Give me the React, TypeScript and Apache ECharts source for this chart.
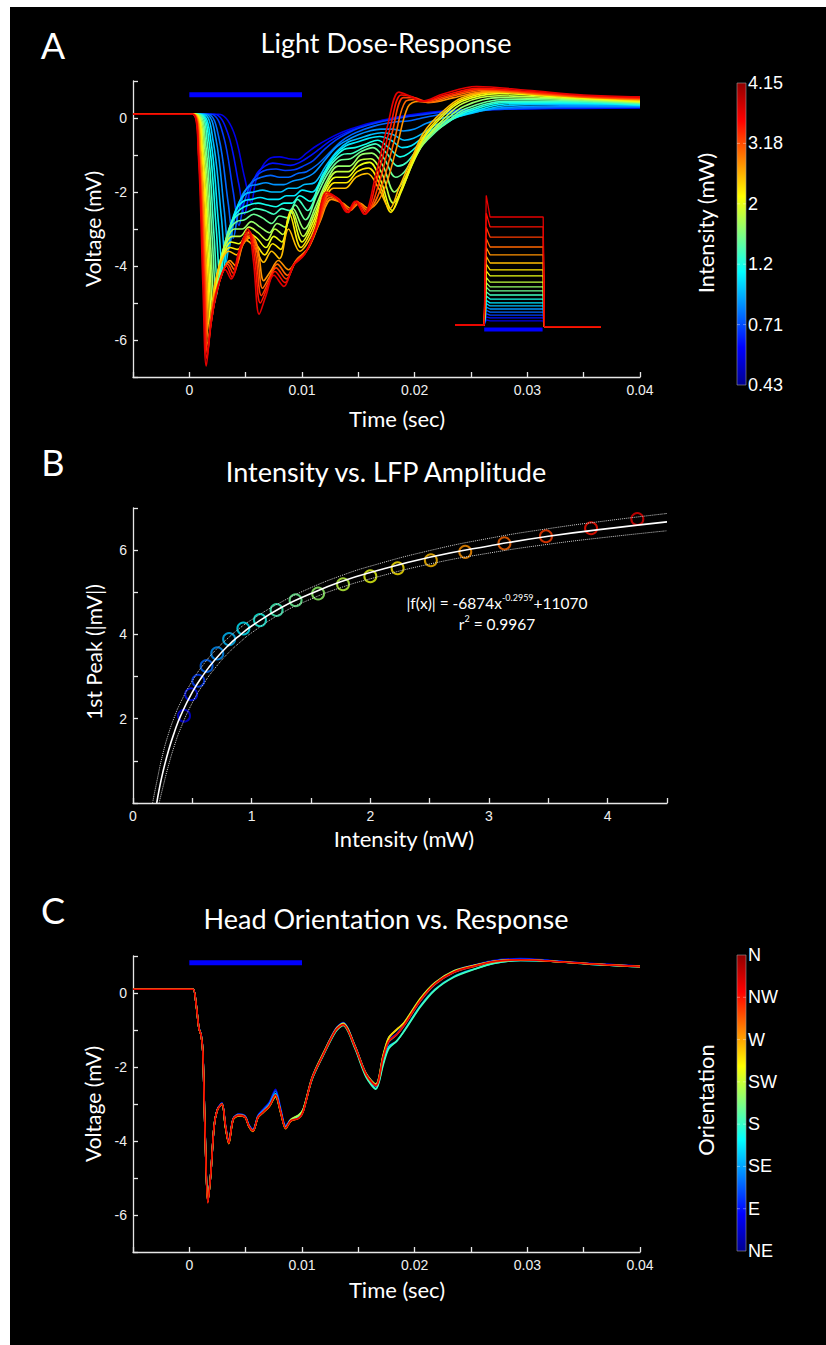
import React, { useEffect, useRef } from 'react';
import * as echarts from 'echarts';

// ---------------- Panel A: light dose-response traces (time in ms, voltage in mV) ----------------
const a0 = [[-5,0.1],[2.6,0.1],[3.9,-0.35],[4.9,-1.6],[5.5,-2.3],[5.9,-1.7],[6.5,-1.3],[7.2,-1.08],[8.0,-1.05],[8.8,-1.1],[9.6,-1.12],[10.4,-0.95],[11.3,-0.75],[12.3,-0.57],[13.3,-0.42],[14.3,-0.3],[15.3,-0.2],[16.3,-0.12],[17.3,-0.05],[18.3,0.02],[19.5,0.08],[21,0.14],[23,0.2],[26,0.23],[30,0.25],[35,0.26],[40,0.27]];
const a1 = [[-5,0.1],[2.2,0.1],[3.4,-0.4],[4.4,-1.8],[4.9,-2.6],[5.35,-2.0],[6.0,-1.5],[6.7,-1.3],[7.4,-1.22],[8.2,-1.25],[9.0,-1.28],[9.8,-1.2],[10.6,-1.05],[11.5,-0.85],[12.5,-0.62],[13.5,-0.45],[14.5,-0.32],[15.5,-0.22],[16.5,-0.13],[17.5,-0.06],[18.5,0.0],[19.5,0.05],[21,0.12],[23,0.18],[26,0.22],[30,0.25],[35,0.27],[40,0.28]];
const a2 = [[-5,0.1],[1.9,0.1],[3.0,-0.45],[3.9,-2.0],[4.4,-2.9],[4.85,-2.3],[5.5,-1.75],[6.2,-1.5],[6.9,-1.4],[7.7,-1.38],[8.5,-1.42],[9.3,-1.4],[10.1,-1.3],[11.0,-1.15],[12.0,-0.85],[13.0,-0.6],[14.0,-0.42],[15.0,-0.28],[16.0,-0.18],[17.0,-0.1],[18.0,-0.04],[19.0,0.02],[20.5,0.08],[22,0.14],[24,0.2],[28,0.24],[33,0.28],[40,0.29]];
const a3 = [[-5,0.1],[1.6,0.1],[2.6,-0.5],[3.45,-2.3],[3.9,-3.25],[4.35,-2.55],[5.0,-1.95],[5.7,-1.7],[6.4,-1.6],[7.2,-1.55],[8.0,-1.6],[8.8,-1.6],[9.6,-1.5],[10.4,-1.45],[11.4,-1.25],[12.4,-0.95],[13.4,-0.65],[14.4,-0.45],[15.4,-0.32],[16.4,-0.22],[17.4,-0.15],[18.4,-0.1],[19.4,-0.08],[20.4,-0.02],[22,0.08],[24,0.16],[28,0.25],[33,0.3],[40,0.3]];
const a4 = [[-5,0.1],[1.4,0.1],[2.35,-0.55],[3.1,-2.5],[3.5,-3.55],[3.95,-2.8],[4.6,-2.15],[5.3,-1.85],[6.0,-1.8],[6.8,-1.75],[7.6,-1.8],[8.4,-1.8],[9.2,-1.7],[10.0,-1.65],[11.0,-1.5],[12.0,-1.15],[13.0,-0.8],[14.0,-0.6],[15.0,-0.45],[16.0,-0.35],[17.0,-0.3],[18.0,-0.3],[19.0,-0.35],[20.0,-0.3],[21.0,-0.15],[22.5,0.0],[24.5,0.12],[28,0.28],[33,0.33],[40,0.32]];
const a5 = [[-5,0.1],[1.2,0.1],[2.1,-0.6],[2.85,-2.7],[3.25,-3.9],[3.7,-3.0],[4.3,-2.35],[5.0,-2.05],[5.7,-2.0],[6.5,-1.95],[7.3,-2.0],[8.1,-2.0],[8.8,-1.9],[9.5,-1.9],[10.2,-1.8],[11.1,-1.75],[12.1,-1.3],[13.1,-0.9],[14.1,-0.65],[15.1,-0.55],[16.1,-0.45],[17.1,-0.4],[18.1,-0.45],[19.1,-0.6],[19.9,-0.55],[20.8,-0.4],[21.8,-0.2],[23.4,0.0],[25,0.12],[28,0.33],[33,0.37],[40,0.34]];
const a6 = [[-5,0.1],[1.0,0.1],[1.9,-0.6],[2.6,-2.9],[3.0,-4.15],[3.45,-3.2],[4.1,-2.5],[4.8,-2.25],[5.5,-2.2],[6.3,-2.15],[7.1,-2.2],[7.9,-2.2],[8.6,-2.1],[9.3,-2.1],[10.0,-1.95],[10.9,-2.0],[11.9,-1.5],[12.9,-1.0],[13.9,-0.75],[14.9,-0.65],[15.9,-0.55],[16.9,-0.5],[17.9,-0.6],[18.9,-0.8],[19.7,-0.75],[20.6,-0.55],[21.6,-0.3],[23.2,-0.05],[25,0.15],[28,0.38],[33,0.4],[40,0.35]];
const a7 = [[-5,0.1],[0.9,0.1],[1.75,-0.65],[2.4,-3.05],[2.75,-4.35],[3.2,-3.4],[3.9,-2.7],[4.6,-2.45],[5.3,-2.35],[6.1,-2.3],[6.9,-2.35],[7.7,-2.4],[8.4,-2.3],[9.1,-2.3],[9.8,-2.1],[10.7,-2.25],[11.7,-1.65],[12.7,-1.15],[13.7,-0.85],[14.7,-0.8],[15.7,-0.7],[16.7,-0.6],[17.7,-0.8],[18.7,-1.05],[19.5,-0.95],[20.4,-0.7],[21.4,-0.4],[23,-0.1],[24.8,0.18],[28,0.42],[33,0.42],[40,0.36]];
const a8 = [[-5,0.1],[0.8,0.1],[1.6,-0.7],[2.2,-3.2],[2.55,-4.6],[3.0,-3.6],[3.7,-2.85],[4.4,-2.6],[5.1,-2.55],[5.9,-2.45],[6.7,-2.5],[7.5,-2.6],[8.2,-2.45],[8.9,-2.5],[9.6,-2.2],[10.5,-2.5],[11.5,-1.85],[12.5,-1.3],[13.5,-1.0],[14.5,-0.95],[15.5,-0.8],[16.5,-0.7],[17.5,-0.95],[18.5,-1.3],[19.3,-1.2],[20.2,-0.85],[21.2,-0.5],[22.8,-0.15],[24.6,0.2],[28,0.45],[33,0.45],[40,0.38]];
const a9 = [[-5,0.1],[0.7,0.1],[1.45,-0.7],[2.05,-3.35],[2.4,-4.8],[2.85,-3.8],[3.5,-3.05],[4.2,-2.8],[4.9,-2.75],[5.7,-2.6],[6.5,-2.7],[7.3,-2.85],[8.0,-2.65],[8.7,-2.7],[9.4,-2.35],[10.3,-2.75],[11.3,-2.1],[12.3,-1.5],[13.3,-1.15],[14.3,-1.1],[15.3,-0.9],[16.3,-0.8],[17.3,-1.1],[18.3,-1.6],[19.1,-1.45],[20.0,-1.0],[21.1,-0.6],[22.7,-0.15],[24.5,0.25],[28,0.5],[33,0.48],[40,0.4]];
const a10 = [[-5,0.1],[0.6,0.1],[1.35,-0.75],[1.9,-3.5],[2.25,-5.0],[2.65,-4.0],[3.3,-3.3],[4.0,-3.0],[4.7,-3.0],[5.5,-2.8],[6.3,-2.95],[7.1,-3.1],[7.8,-2.85],[8.5,-2.95],[9.2,-2.45],[10.2,-3.0],[11.2,-2.4],[12.2,-1.7],[13.2,-1.3],[14.2,-1.3],[15.2,-1.0],[16.2,-0.95],[17.2,-1.3],[18.2,-2.0],[19.0,-1.7],[19.9,-1.15],[21.0,-0.6],[22.6,-0.1],[24.4,0.32],[27.5,0.55],[32,0.52],[40,0.42]];
const a11 = [[-5,0.1],[0.55,0.1],[1.25,-0.8],[1.8,-3.65],[2.1,-5.2],[2.5,-4.2],[3.1,-3.5],[3.8,-3.2],[4.5,-3.2],[5.3,-2.95],[6.1,-3.1],[6.9,-3.3],[7.6,-3.0],[8.3,-3.15],[9.1,-2.5],[10.1,-3.2],[11.1,-2.6],[12.1,-1.85],[13.1,-1.45],[14.1,-1.45],[15.1,-1.15],[16.1,-1.1],[17.1,-1.5],[18.1,-2.3],[18.9,-1.9],[19.8,-1.25],[20.9,-0.6],[22.5,-0.05],[24.3,0.4],[27.5,0.6],[32,0.55],[40,0.43]];
const a12 = [[-5,0.1],[0.5,0.1],[1.15,-0.8],[1.7,-3.8],[2.0,-5.4],[2.4,-4.4],[3.0,-3.7],[3.7,-3.35],[4.4,-3.4],[5.2,-3.1],[6.0,-3.25],[6.8,-3.5],[7.5,-3.2],[8.2,-3.35],[9.0,-2.5],[10.0,-3.35],[11.0,-2.8],[12.0,-2.0],[13.0,-1.6],[14.0,-1.6],[15.0,-1.3],[16.0,-1.2],[17.0,-1.7],[18.0,-2.5],[18.8,-2.0],[19.7,-1.3],[20.8,-0.55],[22.4,0.02],[24.2,0.45],[27.5,0.66],[32,0.58],[40,0.45]];
const a13 = [[-5,0.1],[0.45,0.1],[1.1,-0.85],[1.6,-3.9],[1.9,-5.6],[2.3,-4.5],[2.9,-3.8],[3.6,-3.5],[4.3,-3.55],[5.1,-3.2],[5.9,-3.4],[6.7,-3.7],[7.4,-3.4],[8.1,-3.55],[8.9,-2.6],[9.9,-3.5],[10.9,-3.0],[11.9,-2.2],[12.9,-1.75],[13.9,-1.75],[14.9,-1.45],[15.9,-1.35],[16.9,-1.8],[17.9,-2.55],[18.7,-2.0],[19.6,-1.3],[20.8,-0.5],[22.4,0.08],[24.2,0.5],[27.5,0.7],[32,0.6],[40,0.46]];
const a14 = [[-5,0.1],[0.4,0.1],[1.0,-0.85],[1.5,-4.0],[1.8,-5.75],[2.2,-4.6],[2.8,-3.9],[3.5,-3.6],[4.2,-3.7],[5.0,-3.3],[5.8,-3.5],[6.6,-3.9],[7.3,-3.6],[8.0,-3.8],[8.8,-3.0],[9.8,-3.6],[10.8,-3.2],[11.8,-2.4],[12.8,-1.9],[13.8,-1.9],[14.8,-1.6],[15.8,-1.5],[16.8,-1.9],[17.8,-2.45],[18.6,-1.9],[19.6,-1.2],[20.8,-0.4],[22.4,0.15],[24.2,0.55],[27.5,0.72],[32,0.62],[40,0.48]];
const a15 = [[-5,0.1],[0.38,0.1],[0.95,-0.9],[1.45,-4.15],[1.72,-5.95],[2.2,-4.9],[2.9,-4.2],[3.6,-3.85],[4.1,-4.0],[4.8,-3.4],[5.6,-3.2],[6.1,-3.55],[6.6,-4.4],[7.2,-4.15],[7.9,-3.85],[8.8,-4.1],[9.6,-3.8],[10.6,-3.5],[11.6,-2.8],[12.6,-2.2],[13.6,-2.3],[14.4,-2.45],[15.1,-2.3],[15.9,-2.45],[17.2,-2.0],[18.4,-0.8],[19.4,0.3],[20.3,0.45],[21.4,0.42],[23.5,0.55],[26.5,0.72],[30,0.66],[35,0.56],[40,0.5]];
const a16 = [[-5,0.1],[0.35,0.1],[0.9,-0.9],[1.4,-4.3],[1.66,-6.15],[2.1,-5.0],[2.8,-4.3],[3.5,-3.9],[4.0,-4.1],[4.7,-3.45],[5.5,-3.15],[6.0,-3.6],[6.5,-4.6],[7.1,-4.3],[7.8,-3.95],[8.7,-4.25],[9.5,-3.85],[10.5,-3.55],[11.5,-2.85],[12.5,-2.15],[13.5,-2.3],[14.3,-2.5],[15.0,-2.3],[15.8,-2.5],[17.0,-1.9],[18.2,-0.6],[19.2,0.45],[20.1,0.5],[21.2,0.42],[23.2,0.58],[26.3,0.75],[30,0.68],[35,0.57],[40,0.52]];
const a17 = [[-5,0.1],[0.33,0.1],[0.85,-0.95],[1.35,-4.45],[1.6,-6.35],[2.05,-5.2],[2.7,-4.4],[3.4,-3.95],[3.9,-4.2],[4.6,-3.5],[5.4,-3.1],[5.9,-3.7],[6.4,-4.8],[7.0,-4.45],[7.7,-4.05],[8.6,-4.35],[9.4,-3.9],[10.4,-3.6],[11.4,-2.9],[12.4,-2.1],[13.4,-2.25],[14.2,-2.5],[14.9,-2.25],[15.7,-2.55],[16.8,-1.8],[18.0,-0.4],[19.0,0.55],[19.9,0.55],[21.0,0.45],[23,0.6],[26,0.78],[30,0.7],[35,0.58],[40,0.53]];
const a18 = [[-5,0.1],[0.31,0.1],[0.82,-0.95],[1.3,-4.55],[1.55,-6.5],[2.0,-5.4],[2.6,-4.5],[3.3,-4.0],[3.8,-4.3],[4.5,-3.55],[5.3,-3.05],[5.8,-3.8],[6.3,-5.0],[6.9,-4.6],[7.6,-4.15],[8.5,-4.45],[9.3,-3.95],[10.3,-3.65],[11.3,-2.95],[12.3,-2.05],[13.3,-2.2],[14.1,-2.55],[14.8,-2.25],[15.6,-2.6],[16.6,-1.7],[17.8,-0.3],[18.8,0.62],[19.7,0.58],[20.8,0.45],[22.7,0.62],[25.7,0.8],[30,0.72],[35,0.6],[40,0.55]];
const a19 = [[-5,0.1],[0.3,0.1],[0.8,-1.0],[1.2,-4.5],[1.5,-6.7],[1.9,-5.6],[2.5,-4.6],[3.2,-4.1],[3.7,-4.35],[4.4,-3.6],[5.2,-3.0],[5.7,-3.9],[6.2,-5.3],[6.8,-4.8],[7.5,-4.25],[8.4,-4.55],[9.2,-4.0],[10.2,-3.7],[11.2,-3.0],[12.2,-2.0],[13.2,-2.2],[14.0,-2.55],[14.7,-2.25],[15.5,-2.6],[16.5,-1.6],[17.6,-0.2],[18.6,0.7],[19.5,0.6],[20.6,0.45],[22.5,0.65],[25.5,0.85],[30,0.75],[35,0.62],[40,0.57]];
const aTraces = [a0,a1,a2,a3,a4,a5,a6,a7,a8,a9,a10,a11,a12,a13,a14,a15,a16,a17,a18,a19];

// Light stimulus bar (ms)
const stimStart = 0;
const stimEnd = 10;
const stimLevelA = 0.63;
const stimLevelC = 0.82;

// Inset: light pulse levels (mW) and onset overshoot (mW)
const insetLevels = [0.16,0.28,0.39,0.51,0.63,0.75,0.87,1.02,1.18,1.34,1.5,1.69,1.93,2.17,2.44,2.76,3.07,3.46,3.86,4.25];
const insetSpikes = [0.2,0.32,0.45,0.58,0.7,0.84,0.97,1.14,1.31,1.49,1.66,1.87,2.13,2.4,2.7,3.05,3.4,3.85,4.4,5.1];
const insetPostLevel = -0.07;

// Colorbar labels
const intensityTicks = ['4.15','3.18','2','1.2','0.71','0.43'];
const orientationTicks = ['N','NW','W','SW','S','SE','E','NE'];

// ---------------- Panel B ----------------
const intensities = [0.43,0.49,0.55,0.62,0.71,0.81,0.93,1.07,1.21,1.37,1.56,1.77,2.0,2.23,2.51,2.8,3.13,3.48,3.86,4.25];
const firstPeak = [2.07,2.58,2.90,3.25,3.55,3.89,4.14,4.34,4.58,4.81,4.97,5.19,5.38,5.57,5.76,5.96,6.16,6.33,6.52,6.74];
const fitX = [0.2,0.22,0.25,0.3,0.35,0.4,0.5,0.6,0.7,0.8,0.9,1,1.25,1.5,1.75,2,2.5,3,3.5,4,4.5];
const fitY = [0.0,0.31,0.71,1.25,1.69,2.06,2.63,3.07,3.43,3.73,3.98,4.20,4.64,4.97,5.25,5.47,5.83,6.10,6.33,6.51,6.67];
const upperX = [0.165,0.2,0.25,0.3,0.35,0.4,0.5,0.6,0.7,0.8,0.9,1,1.25,1.5,1.75,2,2.5,3,3.5,4,4.5];
const upperY = [0,0.5,1.15,1.65,2.05,2.38,2.9,3.31,3.64,3.91,4.15,4.35,4.77,5.11,5.39,5.62,5.99,6.28,6.51,6.7,6.87];
const lowerX = [0.22,0.25,0.3,0.35,0.4,0.5,0.6,0.7,0.8,0.9,1,1.25,1.5,1.75,2,2.5,3,3.5,4,4.5];
const lowerY = [0,0.35,0.9,1.37,1.76,2.38,2.85,3.23,3.55,3.81,4.04,4.5,4.84,5.11,5.32,5.67,5.93,6.14,6.31,6.46];

// ---------------- Panel C: head orientation traces ----------------
const cTimes = [-5,0,0.35,0.6,0.85,1.05,1.2,1.4,1.64,1.9,2.2,2.5,2.9,3.2,3.5,3.9,4.4,4.95,5.3,5.65,6.1,6.6,7.1,7.65,8.1,8.55,9.0,9.7,10.1,10.9,11.9,13.0,13.65,14.7,15.7,16.55,17.2,17.7,18.4,19.1,20.5,21.8,23.5,25.3,27.0,29.4,32.1,35.5,40];
const cNE = [0.1,0.1,0.1,-0.28,-0.93,-1.12,-1.58,-3.75,-5.6,-4.88,-3.62,-3.12,-2.97,-3.55,-4.0,-3.38,-3.27,-3.32,-3.56,-3.68,-3.3,-3.12,-2.95,-2.6,-3.1,-3.58,-3.42,-3.36,-3.18,-2.28,-1.62,-0.96,-0.8,-1.42,-2.18,-2.47,-1.72,-1.27,-1.1,-0.82,-0.18,0.27,0.6,0.76,0.88,0.93,0.88,0.8,0.73];
const cE = [0.1,0.1,0.1,-0.29,-0.94,-1.13,-1.59,-3.77,-5.62,-4.89,-3.61,-3.14,-2.98,-3.57,-4.02,-3.39,-3.28,-3.33,-3.58,-3.7,-3.32,-3.15,-2.98,-2.65,-3.14,-3.6,-3.43,-3.37,-3.2,-2.3,-1.64,-0.98,-0.82,-1.44,-2.22,-2.52,-1.8,-1.33,-1.13,-0.86,-0.22,0.23,0.56,0.73,0.86,0.91,0.87,0.79,0.72];
const cSE = [0.1,0.1,0.1,-0.3,-0.95,-1.14,-1.6,-3.78,-5.63,-4.9,-3.6,-3.15,-3.0,-3.58,-4.04,-3.4,-3.3,-3.34,-3.6,-3.72,-3.34,-3.18,-3.02,-2.72,-3.18,-3.63,-3.44,-3.3,-3.15,-2.32,-1.66,-1.02,-0.86,-1.47,-2.25,-2.58,-1.9,-1.45,-1.3,-1.0,-0.35,0.1,0.45,0.65,0.8,0.88,0.86,0.78,0.71];
const cS = [0.1,0.1,0.1,-0.3,-0.95,-1.15,-1.6,-3.8,-5.64,-4.9,-3.6,-3.15,-3.0,-3.6,-4.05,-3.4,-3.3,-3.35,-3.6,-3.72,-3.35,-3.2,-3.05,-2.75,-3.2,-3.64,-3.45,-3.32,-3.16,-2.33,-1.68,-1.04,-0.88,-1.5,-2.28,-2.6,-1.95,-1.5,-1.3,-1.02,-0.38,0.08,0.43,0.64,0.8,0.88,0.86,0.78,0.71];
const cSW = [0.1,0.1,0.1,-0.3,-0.95,-1.15,-1.6,-3.8,-5.65,-4.9,-3.6,-3.15,-3.0,-3.6,-4.05,-3.4,-3.3,-3.35,-3.6,-3.72,-3.35,-3.2,-3.05,-2.78,-3.22,-3.65,-3.42,-3.3,-3.15,-2.28,-1.62,-0.98,-0.82,-1.43,-2.18,-2.46,-1.68,-1.2,-1.0,-0.78,-0.15,0.28,0.6,0.75,0.86,0.9,0.86,0.79,0.72];
const cW = [0.1,0.1,0.1,-0.3,-0.95,-1.15,-1.6,-3.8,-5.65,-4.9,-3.6,-3.15,-3.0,-3.62,-4.07,-3.42,-3.32,-3.36,-3.62,-3.74,-3.36,-3.22,-3.07,-2.8,-3.22,-3.67,-3.46,-3.38,-3.2,-2.3,-1.64,-1.0,-0.84,-1.44,-2.2,-2.48,-1.7,-1.22,-0.98,-0.8,-0.17,0.26,0.58,0.74,0.85,0.9,0.86,0.79,0.72];
const cNW = [0.1,0.1,0.1,-0.3,-0.95,-1.15,-1.6,-3.8,-5.66,-4.9,-3.6,-3.16,-3.0,-3.6,-4.06,-3.41,-3.31,-3.36,-3.61,-3.73,-3.36,-3.21,-3.06,-2.77,-3.21,-3.66,-3.46,-3.39,-3.21,-2.31,-1.66,-1.01,-0.86,-1.46,-2.21,-2.51,-1.76,-1.31,-1.13,-0.86,-0.21,0.24,0.56,0.72,0.84,0.89,0.86,0.79,0.71];
const cN = [0.1,0.1,0.1,-0.3,-0.95,-1.15,-1.6,-3.8,-5.68,-4.9,-3.6,-3.15,-3.0,-3.55,-4.05,-3.4,-3.3,-3.35,-3.6,-3.72,-3.35,-3.2,-3.05,-2.75,-3.2,-3.65,-3.45,-3.38,-3.2,-2.3,-1.65,-1.0,-0.85,-1.45,-2.2,-2.5,-1.75,-1.3,-1.12,-0.85,-0.2,0.25,0.57,0.73,0.85,0.9,0.86,0.79,0.72];
const cTraces = [cNE, cE, cSE, cS, cSW, cW, cNW, cN];

// ---------------- helpers ----------------
const jet = (f: number) => {
  const c = (x: number) => Math.round(255 * Math.max(0, Math.min(1, x)));
  return `rgb(${c(1.5 - Math.abs(4 * f - 3))},${c(1.5 - Math.abs(4 * f - 2))},${c(1.5 - Math.abs(4 * f - 1))})`;
};
const traceColor = (i: number, n: number) => jet(0.1 + (0.8 * i) / (n - 1));

const AXIS_COLOR = '#e6e6e6';
const TICK_FONT = '"Liberation Sans", Arial, sans-serif';
const TEXT_FONT = 'Lato, "Open Sans", sans-serif';

const axisBase = (extra: any) => ({
  type: 'value',
  axisLine: { show: true, onZero: false, lineStyle: { color: AXIS_COLOR, width: 1.3 } },
  axisTick: { show: true, inside: true, length: 5, lineStyle: { color: AXIS_COLOR, width: 1.3 } },
  splitLine: { show: false },
  ...extra,
});
const tickLabel = (formatter: any) => ({ color: '#f0f0f0', fontSize: 14, fontFamily: TICK_FONT, margin: 6, formatter });

const timeLabel = (v: number) => (v % 10 === 0 ? String(v / 1000) : '');
const evenLabel = (v: number) => (v % 2 === 0 ? String(v) : '');

const jetStops = [
  { offset: 0, color: '#000090' },
  { offset: 0.125, color: '#0000ff' },
  { offset: 0.375, color: '#00ffff' },
  { offset: 0.625, color: '#ffff00' },
  { offset: 0.875, color: '#ff0000' },
  { offset: 1, color: '#900000' },
];

const txt = (x: number, y: number, text: string, size: number, opts: any = {}) => ({
  type: 'text',
  x,
  y,
  rotation: opts.rotation || 0,
  z: 100,
  style: {
    text,
    fill: '#ffffff',
    font: `${size}px ${opts.family || TEXT_FONT}`,
    textAlign: opts.align || 'center',
    align: opts.align || 'center',
    textVerticalAlign: 'middle',
    verticalAlign: 'middle',
    ...(opts.style || {}),
  },
});

const colorbar = (top: number, bottom: number, labels: string[], title: string, titleY: number) => {
  const els: any[] = [
    {
      type: 'rect',
      z: 50,
      shape: { x: 737, y: top, width: 9, height: bottom - top },
      style: {
        fill: { type: 'linear', x: 0, y: 1, x2: 0, y2: 0, colorStops: jetStops },
        stroke: '#9a9a9a',
        lineWidth: 0.6,
      },
    },
  ];
  const step = (bottom - top) / (labels.length - 1);
  labels.forEach((l, i) => {
    const y = top + i * step;
    els.push(txt(748, y, l, 18, { align: 'left', family: TICK_FONT }));
    if (i > 0 && i < labels.length - 1) {
      els.push({ type: 'line', z: 51, shape: { x1: 737, y1: y, x2: 740, y2: y }, style: { stroke: '#ffffff', lineWidth: 0.6, opacity: 0.6 } });
      els.push({ type: 'line', z: 51, shape: { x1: 743, y1: y, x2: 746, y2: y }, style: { stroke: '#ffffff', lineWidth: 0.6, opacity: 0.6 } });
    }
  });
  els.push(txt(705, titleY, title, 22, { rotation: Math.PI / 2 }));
  return els;
};

const supRich = { sup: { fontSize: 9, fill: '#ffffff', color: '#ffffff', verticalAlign: 'top', lineHeight: 11, fontFamily: TEXT_FONT } };

function buildOption() {
  const series: any[] = [];

  // Panel A traces
  aTraces.forEach((d, k) => {
    series.push({
      type: 'line', xAxisIndex: 0, yAxisIndex: 0, data: d, symbol: 'none', smooth: 0.35,
      lineStyle: { color: traceColor(k, aTraces.length), width: 1.6 },
    });
  });
  series.push({
    type: 'line', xAxisIndex: 0, yAxisIndex: 0, symbol: 'none',
    data: [[stimStart, stimLevelA], [stimEnd, stimLevelA]],
    lineStyle: { color: '#0000ff', width: 5 },
  });

  // Inset
  insetLevels.forEach((L, k) => {
    const s = insetSpikes[k];
    series.push({
      type: 'line', xAxisIndex: 1, yAxisIndex: 1, symbol: 'none', clip: false,
      data: [[-5, 0], [0, 0], [0.35, s], [1.0, L], [10.1, L], [10.3, insetPostLevel], [20, insetPostLevel]],
      lineStyle: { color: traceColor(k, insetLevels.length), width: 1.3 },
    });
  });
  series.push({
    type: 'line', xAxisIndex: 1, yAxisIndex: 1, symbol: 'none', clip: false,
    data: [[stimStart, -0.18], [stimEnd, -0.18]],
    lineStyle: { color: '#0000ff', width: 4 },
  });

  // Panel B
  series.push({
    type: 'line', xAxisIndex: 2, yAxisIndex: 2, symbol: 'none', smooth: true,
    data: upperX.map((x, i) => [x, upperY[i]]),
    lineStyle: { color: '#d0d0d0', width: 1, type: 'dotted' },
  });
  series.push({
    type: 'line', xAxisIndex: 2, yAxisIndex: 2, symbol: 'none', smooth: true,
    data: lowerX.map((x, i) => [x, lowerY[i]]),
    lineStyle: { color: '#d0d0d0', width: 1, type: 'dotted' },
  });
  series.push({
    type: 'line', xAxisIndex: 2, yAxisIndex: 2, symbol: 'none', smooth: true,
    data: fitX.map((x, i) => [x, fitY[i]]),
    lineStyle: { color: '#ffffff', width: 1.6 },
  });
  series.push({
    type: 'scatter', xAxisIndex: 2, yAxisIndex: 2, symbol: 'circle', symbolSize: 12,
    data: intensities.map((x, i) => ({
      value: [x, firstPeak[i]],
      itemStyle: { color: 'rgba(0,0,0,0)', borderColor: traceColor(i, intensities.length), borderWidth: 2 },
    })),
  });

  // Panel C
  cTraces.forEach((vals, i) => {
    series.push({
      type: 'line', xAxisIndex: 3, yAxisIndex: 3, symbol: 'none', smooth: 0.3,
      data: cTimes.map((t, j) => [t, vals[j]]),
      lineStyle: { color: traceColor(i, cTraces.length), width: 1.6 },
    });
  });
  series.push({
    type: 'line', xAxisIndex: 3, yAxisIndex: 3, symbol: 'none',
    data: [[stimStart, stimLevelC], [stimEnd, stimLevelC]],
    lineStyle: { color: '#0000ff', width: 5 },
  });

  const graphic: any[] = [
    { type: 'rect', z: 0, shape: { x: 0, y: 0, width: 10, height: 1345 }, style: { fill: '#ffffff' } },
    { type: 'rect', z: 0, shape: { x: 0, y: 0, width: 826, height: 7 }, style: { fill: '#ffffff' } },
    // Panel A
    txt(53, 45, 'A', 36),
    txt(386, 42, 'Light Dose-Response', 27),
    txt(92, 229, 'Voltage (mV)', 21, { rotation: Math.PI / 2 }),
    txt(397, 418, 'Time (sec)', 22),
    ...colorbar(83, 385, intensityTicks, 'Intensity (mW)', 223),
    // Panel B
    txt(53, 462, 'B', 36),
    txt(386, 471, 'Intensity vs. LFP Amplitude', 27),
    txt(93, 652, '1st Peak (|mV|)', 21, { rotation: Math.PI / 2 }),
    txt(404, 838, 'Intensity (mW)', 22),
    txt(497, 603, '|f(x)| = -6874x{sup|-0.2959}+11070', 15.5, { style: { rich: supRich, lineHeight: 20 } }),
    txt(497, 624, 'r{sup|2} = 0.9967', 15.5, { style: { rich: supRich, lineHeight: 20 } }),
    // Panel C
    txt(53, 910, 'C', 36),
    txt(386, 918, 'Head Orientation vs. Response', 27),
    txt(92, 1104, 'Voltage (mV)', 21, { rotation: Math.PI / 2 }),
    txt(397, 1289, 'Time (sec)', 22),
    ...colorbar(955, 1251, orientationTicks, 'Orientation', 1100),
  ];

  return {
    animation: false,
    backgroundColor: '#000000',
    grid: [
      { left: 133, top: 81, width: 507, height: 296 },
      { left: 455, top: 217, width: 146, height: 108 },
      { left: 133, top: 508, width: 534, height: 295 },
      { left: 133, top: 956, width: 507, height: 296 },
    ],
    xAxis: [
      axisBase({ gridIndex: 0, min: -5, max: 40, interval: 5, axisLabel: tickLabel(timeLabel) }),
      { type: 'value', gridIndex: 1, min: -5, max: 20, show: false },
      axisBase({ gridIndex: 2, min: 0, max: 4.5, interval: 0.5, axisLabel: tickLabel((v: number) => (Number.isInteger(v) ? String(v) : '')) }),
      axisBase({ gridIndex: 3, min: -5, max: 40, interval: 5, axisLabel: tickLabel(timeLabel) }),
    ],
    yAxis: [
      axisBase({ gridIndex: 0, min: -7, max: 1, interval: 1, axisLabel: tickLabel(evenLabel) }),
      { type: 'value', gridIndex: 1, min: 0, max: 4.25, show: false },
      axisBase({ gridIndex: 2, min: 0, max: 7, interval: 1, axisLabel: tickLabel((v: number) => (v % 2 === 0 && v !== 0 ? String(v) : '')) }),
      axisBase({ gridIndex: 3, min: -7, max: 1, interval: 1, axisLabel: tickLabel(evenLabel) }),
    ],
    series,
    graphic,
  };
}

export default function App() {
  const ref = useRef<HTMLDivElement>(null);
  useEffect(() => {
    if (!ref.current) return;
    const chart = echarts.init(ref.current, null, { renderer: 'svg', width: 826, height: 1345 });
    chart.setOption(buildOption() as any);
    return () => chart.dispose();
  }, []);
  return <div ref={ref} style={{ position: 'absolute', left: 0, top: 0, width: 826, height: 1345 }} />;
}
